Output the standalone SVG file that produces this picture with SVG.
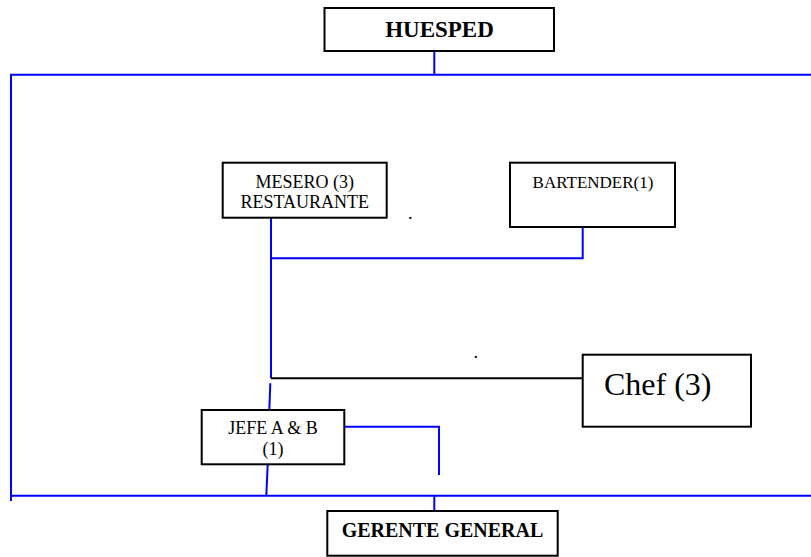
<svg xmlns="http://www.w3.org/2000/svg" width="811" height="557" viewBox="0 0 811 557">
  <style>
    .box { fill: #ffffff; stroke: #000000; stroke-width: 2; }
    .wire { fill: none; stroke: #0000ff; stroke-width: 2; }
    .wire-black { fill: none; stroke: #000000; stroke-width: 2; }
    .lbl { font-family: "Liberation Serif", "Times New Roman", serif; fill: #000000; }
    .bold { font-weight: bold; }
  </style>
  <rect width="811" height="557" fill="#ffffff"/>

  <!-- connectors -->
  <g id="connectors">
    <!-- outer frame -->
    <path class="wire" d="M434.3,51 V74.7"/>
    <path class="wire" d="M811,74.7 H11 V501"/>
    <path class="wire" d="M11,495.7 H811"/>
    <path class="wire" d="M434.3,495.7 V511"/>
    <!-- mesero / bartender branch -->
    <path class="wire" d="M271,217.7 V378.3"/>
    <path class="wire" d="M271,258.3 H582.7 V227"/>
    <!-- chef link -->
    <path class="wire-black" d="M271,378.3 H582.7"/>
    <!-- jefe links -->
    <path class="wire" d="M270.3,383.3 L269.3,410"/>
    <path class="wire" d="M267.7,464.3 L266.3,495.7"/>
    <path class="wire" d="M342.3,426.7 H439 V475"/>
  </g>

  <g id="huesped">
    <rect class="box" x="324.5" y="8" width="229.5" height="43"/>
    <text class="lbl bold" x="439.5" y="36.7" font-size="23" text-anchor="middle">HUESPED</text>
  </g>

  <g id="mesero">
    <rect class="box" x="222.7" y="162.7" width="164" height="55"/>
    <text class="lbl" x="304.7" y="187.7" font-size="18" text-anchor="middle">MESERO (3)</text>
    <text class="lbl" x="304.7" y="208.3" font-size="18" text-anchor="middle">RESTAURANTE</text>
  </g>

  <g id="bartender">
    <rect class="box" x="510" y="162.7" width="165" height="64.3"/>
    <text class="lbl" x="593" y="187.7" font-size="17" text-anchor="middle">BARTENDER(1)</text>
  </g>

  <g id="chef">
    <rect class="box" x="582.7" y="354.7" width="168.3" height="72"/>
    <text class="lbl" x="604" y="395" font-size="32">Chef (3)</text>
  </g>

  <g id="jefe">
    <rect class="box" x="201.7" y="410" width="142.6" height="54.3"/>
    <text class="lbl" x="273" y="434.3" font-size="18" text-anchor="middle">JEFE A &amp; B</text>
    <text class="lbl" x="273" y="455" font-size="18" text-anchor="middle">(1)</text>
  </g>

  <g id="gerente">
    <rect class="box" x="327.3" y="511" width="230.4" height="44.7"/>
    <text class="lbl bold" x="442.5" y="537.3" font-size="20" text-anchor="middle">GERENTE GENERAL</text>
  </g>

  <!-- stray periods -->
  <text class="lbl" x="408" y="219" font-size="18">.</text>
  <text class="lbl" x="473.5" y="358" font-size="18">.</text>
</svg>
